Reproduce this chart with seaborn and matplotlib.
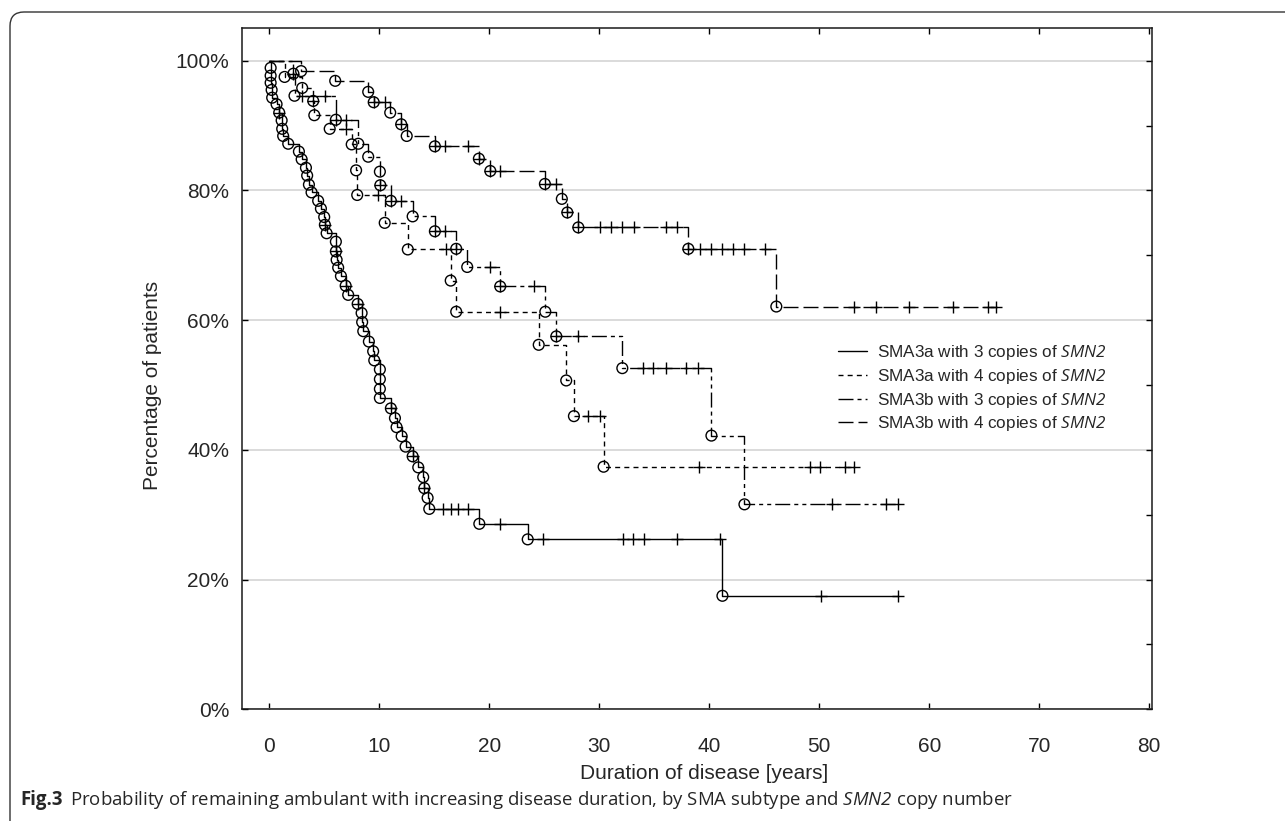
import numpy as np
import pandas as pd
import matplotlib
matplotlib.use("Agg")
import matplotlib.pyplot as plt
import seaborn as sns
from matplotlib.patches import FancyBboxPatch
from matplotlib.transforms import IdentityTransform
from matplotlib.ticker import MultipleLocator, PercentFormatter

# ---------------- data ----------------
labels = [r"SMA3a with 3 copies of $\mathit{SMN2}$",
          r"SMA3a with 4 copies of $\mathit{SMN2}$",
          r"SMA3b with 3 copies of $\mathit{SMN2}$",
          r"SMA3b with 4 copies of $\mathit{SMN2}$"]

# SMA3a, 3 copies
s1_event_t = [0.13, 0.13, 0.13, 0.22, 0.27, 0.67, 0.91, 1.13, 1.18, 1.27, 1.73, 2.7, 2.95,
              3.34, 3.45, 3.61, 3.85, 4.45, 4.7, 5.0, 5.06, 5.22, 6.06, 6.06, 6.13, 6.27,
              6.52, 6.95, 7.18, 8.04, 8.4, 8.45, 8.55, 9.06, 9.45, 9.55, 10.06, 10.06, 10.06,
              10.06, 11.06, 11.43, 11.58, 12.04, 12.4, 13.04, 13.55, 14.0, 14.1, 14.4, 14.55,
              19.1, 23.5, 41.2]
s1_event_s = [98.9, 97.7, 96.6, 95.5, 94.3, 93.3, 92.0, 90.8, 89.5, 88.4, 87.2, 86.0, 84.8,
              83.5, 82.3, 80.9, 79.7, 78.4, 77.2, 75.9, 74.7, 73.4, 72.1, 70.6, 69.3, 68.1,
              66.8, 65.3, 63.9, 62.5, 61.1, 59.7, 58.3, 56.7, 55.2, 53.8, 52.4, 50.9, 49.4,
              48.0, 46.4, 44.9, 43.5, 42.1, 40.5, 39.0, 37.3, 35.8, 34.1, 32.6, 30.9,
              28.6, 26.2, 17.5]
s1_cens_t = [0.91, 5.06, 6.06, 6.95, 8.04, 11.06, 13.04, 14.1, 15.8, 16.5, 17.2, 18.1, 21.0,
             24.9, 32.2, 33.1, 34.1, 37.1, 41.0, 50.2, 57.2]
s1_end = 57.2

# SMA3a, 4 copies
s2_event_t = [1.4, 3.0, 4.0, 4.1, 5.5, 7.5, 7.9, 8.0, 10.5, 12.6, 16.5, 17.0, 24.5, 27.0, 27.7, 30.4]
s2_event_s = [97.5, 95.8, 93.8, 91.6, 89.5, 87.1, 83.1, 79.3, 75.0, 70.9, 66.1, 61.3, 56.2, 50.7,
              45.2, 37.4]
s2_cens_t = [4.0, 7.0, 9.9, 16.06, 21.0, 29.0, 30.1, 39.1, 49.2, 50.1, 52.3, 53.2]
s2_end = 53.2

# SMA3b, 3 copies
s3_event_t = [2.2, 2.3, 6.06, 8.1, 9.0, 10.06, 10.1, 11.06, 13.04, 15.06, 17.0, 18.0, 21.0,
              25.1, 26.1, 32.1, 40.2, 43.2]
s3_event_s = [98.0, 94.6, 90.9, 87.2, 85.2, 82.9, 80.8, 78.4, 76.0, 73.7, 71.0, 68.2, 65.2,
              61.3, 57.5, 52.6, 42.2, 31.6]
s3_cens_t = [2.2, 2.95, 5.06, 6.06, 7.0, 10.1, 11.06, 12.0, 15.06, 16.0, 17.0, 20.1, 21.0,
             24.1, 26.1, 28.1, 34.0, 34.9, 36.1, 37.9, 39.0, 51.2, 56.1, 57.2]
s3_end = 57.2

# SMA3b, 4 copies
s4_event_t = [2.9, 6.0, 9.0, 9.5, 11.0, 12.0, 12.5, 15.06, 19.06, 20.1, 25.06, 26.6, 27.1,
              28.1, 38.1, 46.1]
s4_event_s = [98.4, 96.9, 95.2, 93.6, 92.0, 90.2, 88.4, 86.8, 84.9, 83.0, 81.0, 78.7, 76.6,
              74.3, 71.0, 62.1]
s4_cens_t = [9.5, 10.5, 12.0, 15.06, 16.0, 18.1, 19.06, 20.1, 21.0, 25.06, 26.1, 27.1, 28.1,
             30.1, 31.1, 32.1, 33.2, 36.1, 37.1, 38.1, 39.2, 40.2, 41.2, 42.2, 43.2, 45.1,
             53.2, 55.2, 58.2, 62.2, 65.3, 66.1]
s4_end = 66.2

x_ticks = [0, 10, 20, 30, 40, 50, 60, 70, 80]
y_ticks = [0, 20, 40, 60, 80, 100]

caption_head = "Fig.3"
caption_body = (r"Probability of remaining ambulant with increasing disease duration, "
                r"by SMA subtype and $\mathit{SMN2}$ copy number")

# ---------------- styling ----------------
sns.set_style("white")
plt.rcParams["font.family"] = ["Liberation Sans", "DejaVu Sans"]
plt.rcParams["mathtext.fontset"] = "custom"
plt.rcParams["mathtext.it"] = "Open Sans:italic"
plt.rcParams["mathtext.bf"] = "Open Sans:bold"
plt.rcParams["mathtext.rm"] = "Open Sans:italic"   # digits inside \mathit fall back to rm

W, H = 1285, 821
fig = plt.figure(figsize=(W / 100, H / 100), dpi=100)
L, R, T, B = 241.7, 1152.0, 28.3, 709.3
ax = fig.add_axes([L / W, 1 - B / H, (R - L) / W, (B - T) / H])

styles = ["-", (0, (3.6, 3.0)), (0, (10.8, 2.9, 2.9, 2.9, 2.9, 2.9)), (0, (10.8, 3.6))]
series = [(s1_event_t, s1_event_s, s1_cens_t, s1_end),
          (s2_event_t, s2_event_s, s2_cens_t, s2_end),
          (s3_event_t, s3_event_s, s3_cens_t, s3_end),
          (s4_event_t, s4_event_s, s4_cens_t, s4_end)]

handles = []
for (et, es, ct, end), ls, lab in zip(series, styles, labels):
    line_df = pd.DataFrame({"t": [0.0] + list(et) + [end],
                            "s": [100.0] + list(es) + [es[-1]]})
    before = set(ax.get_lines())
    sns.lineplot(data=line_df, x="t", y="s", estimator=None, sort=False, errorbar=None,
                 drawstyle="steps-post", color="black", lw=1.0, linestyle=ls, ax=ax,
                 legend=False)
    new = [l for l in ax.get_lines() if l not in before]
    handles.append(new[0])
    # events (circles)
    ev_df = pd.DataFrame({"t": et, "s": es})
    sns.scatterplot(data=ev_df, x="t", y="s", marker="o", s=60, facecolor="none",
                    edgecolor="black", linewidth=1.0, ax=ax, legend=False, zorder=3)
    # censored (+) placed on the step curve
    eta, esa = np.array(et), np.array(es)
    cy = []
    for c in ct:
        idx = np.where(eta <= c + 1e-9)[0]
        cy.append(esa[idx[-1]] if len(idx) else 100.0)
    c_df = pd.DataFrame({"t": ct, "s": cy})
    sns.scatterplot(data=c_df, x="t", y="s", marker="+", s=70, color="black",
                    edgecolor="black", linewidth=1.0, ax=ax, legend=False, zorder=3)

ax.set_xlim(-2.5, 80.25)
ax.set_ylim(0, 105)
ax.set_xticks(x_ticks)
ax.set_yticks(y_ticks)
ax.yaxis.set_minor_locator(MultipleLocator(10))
ax.yaxis.set_major_formatter(PercentFormatter(xmax=100, decimals=0))
ax.tick_params(axis="x", which="major", direction="in", top=True, bottom=True,
               length=4, width=1, pad=20, labelsize=15, color="black")
ax.tick_params(axis="y", which="major", direction="in", left=True, right=True,
               length=4, width=1, pad=9, labelsize=15, color="black")
ax.tick_params(axis="y", which="minor", direction="in", left=False, right=True,
               length=4, width=1, color="black")
ax.yaxis.grid(True, which="major", color="#dadada", lw=1.4)
ax.xaxis.grid(False)
ax.set_axisbelow(True)
for sp in ax.spines.values():
    sp.set_color("#1a1a1a")
    sp.set_linewidth(1.1)

ax.set_xlabel("Duration of disease [years]", fontsize=15)
ax.set_ylabel("Percentage of patients", fontsize=15)
ax.xaxis.set_label_coords((704 - L) / (R - L), (B - 764) / (B - T))
ax.yaxis.set_label_coords((162 - L) / (R - L), (B - 385) / (B - T))

leg = ax.legend(handles=handles, labels=labels, loc="upper left",
                bbox_to_anchor=(838 / W, 1 - 343 / H), bbox_transform=fig.transFigure,
                frameon=False, fontsize=12.3, handlelength=1.72, handletextpad=0.58,
                labelspacing=0.28, borderpad=0, borderaxespad=0)

# outer rounded frame
frame = FancyBboxPatch((10, -30), 1400, H - 12 + 30, boxstyle="round,pad=0,rounding_size=14",
                       transform=IdentityTransform(), fill=False, edgecolor="#333333", lw=1.0)
fig.add_artist(frame)

cap_y = 1 - 800 / H
t1 = fig.text(20 / W, cap_y, caption_head, fontfamily="Open Sans", fontweight="bold",
              fontsize=13.4, va="center", ha="left")
renderer = fig.canvas.get_renderer()
bb = t1.get_window_extent(renderer)
fig.text((bb.x1 + 8) / W, cap_y, caption_body, fontfamily="Open Sans", fontsize=13.4,
         va="center", ha="left")

fig.savefig("out.png", dpi=100)
